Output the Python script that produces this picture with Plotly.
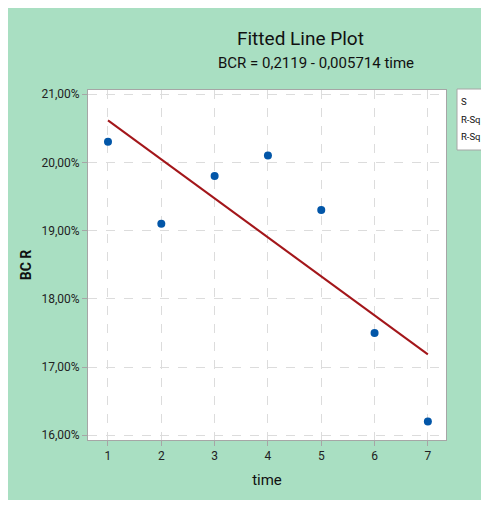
import numpy as np
import plotly.graph_objects as go

# Data
time = [1, 2, 3, 4, 5, 6, 7]
bcr = [0.203, 0.191, 0.198, 0.201, 0.193, 0.175, 0.162]
y_ticks = [0.16, 0.17, 0.18, 0.19, 0.20, 0.21]
title_text = "Fitted Line Plot"
subtitle_text = "BCR = 0,2119 - 0,005714 time"
legend_labels = ["S", "R-Sq", "R-Sq"]

slope, intercept = np.polyfit(time, bcr, 1)
fit_x = [time[0], time[-1]]
fit_y = [intercept + slope * t for t in fit_x]

# page body margin offsets the figure by 8px, so size the figure to the visible area
OFF = 8
W, H = 473, 492
ML, MR, MT, MB = 80, 35, 82, 60
PW, PH = W - ML - MR, H - MT - MB


def px_x(p):
    return (p - OFF - ML) / PW


def px_y(p):
    return 1 - (p - OFF - MT) / PH


GREEN = "#A9DFC2"
FONT = "Roboto, Arial"

fig = go.Figure()
fig.add_trace(go.Scatter(x=fit_x, y=fit_y, mode="lines",
                         line=dict(color="#A3161A", width=2), hoverinfo="skip"))
fig.add_trace(go.Scatter(x=time, y=bcr, mode="markers",
                         marker=dict(color="#0256A8", size=8)))

axis_common = dict(showline=True, linecolor="#A6A6A6", linewidth=1, mirror=True,
                   ticks="outside", ticklen=5, tickcolor="#A6A6A6",
                   showgrid=True, gridcolor="#DCDCDC", griddash="dash", gridwidth=1,
                   zeroline=False, tickfont=dict(family=FONT, size=12, color="#222"))

fig.update_xaxes(range=[0.625, 7.34], tickvals=time,
                 title=dict(text="time", font=dict(family=FONT, size=15, color="#111"), standoff=12),
                 **axis_common)
fig.update_yaxes(range=[0.1593, 0.2106], tickvals=y_ticks, tickformat=".2%",
                 title=dict(text="<b>BC R</b>", font=dict(family=FONT, size=14, color="#111"), standoff=6),
                 **axis_common)

shapes = [
    dict(type="rect", xref="paper", yref="paper", x0=px_x(457), x1=px_x(520), y0=px_y(89), y1=px_y(150),
         fillcolor="white", line=dict(color="#A6A6A6", width=1)),
]

annotations = [
    dict(text=title_text, xref="paper", yref="paper", x=px_x(300), y=px_y(38),
         showarrow=False, font=dict(family=FONT, size=19, color="#111"), xanchor="center", yanchor="middle"),
    dict(text=subtitle_text, xref="paper", yref="paper", x=px_x(316), y=px_y(63),
         showarrow=False, font=dict(family=FONT, size=15, color="#111"), xanchor="center", yanchor="middle"),
]
for i, lab in enumerate(legend_labels):
    annotations.append(dict(text=lab, xref="paper", yref="paper", x=px_x(459), y=px_y(102 + 17 * i),
                            showarrow=False, font=dict(family=FONT, size=9.5, color="#111"),
                            xanchor="left", yanchor="middle"))

fig.update_layout(width=W, height=H, margin=dict(l=ML, r=MR, t=MT, b=MB),
                  paper_bgcolor=GREEN, plot_bgcolor="white", showlegend=False,
                  separators=",.", shapes=shapes, annotations=annotations)

fig.write_html("out.html")
